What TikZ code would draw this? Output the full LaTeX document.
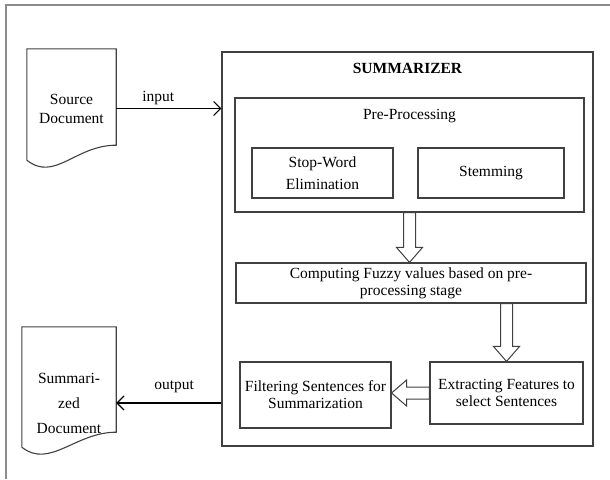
\documentclass[tikz,border=0pt]{standalone}
\usepackage{fontspec}
\setmainfont{Liberation Serif}
\usepackage{tikz}
\usetikzlibrary{arrows.meta}
\usetikzlibrary{calc}

% document symbol round a node: #1 node, #2 extra height on top
\newcommand\docshape[2]{%
	\draw[boxline] ([yshift=8pt]#1.south west) -- ([yshift=#2]#1.north west) -- ([yshift=#2]#1.north east)
		-- ([yshift=23pt]#1.south east) .. controls +(-41,0) and +(28,22) .. ([yshift=8pt]#1.south west);}

\tikzset{
	frame/.style={draw=black!45, line width=1.5pt},
	boxline/.style={draw=black!75, line width=1.1pt},
	blk/.style={boxline, align=center, inner sep=0pt},
	hollow/.style={draw=black!75, line width=1pt, fill=white, to path={
		($(\tikztostart)!6pt!90:(\tikztotarget)$) --
		($(\tikztotarget)!15pt!(\tikztostart)!6pt!90:(\tikztotarget)$) --
		($(\tikztotarget)!15pt!(\tikztostart)!13pt!90:(\tikztotarget)$) --
		(\tikztotarget) --
		($(\tikztotarget)!15pt!(\tikztostart)!13pt!-90:(\tikztotarget)$) --
		($(\tikztotarget)!15pt!(\tikztostart)!6pt!-90:(\tikztotarget)$) --
		($(\tikztostart)!6pt!-90:(\tikztotarget)$) -- cycle}}
}

\begin{document}
\begin{tikzpicture}[x=1pt, y=-1pt, every node/.style={font=\fontsize{15.5}{17}\selectfont},
	>={Straight Barb[length=7pt,width=14pt]}]
\useasboundingbox (0,0) rectangle (610,479);
\draw[frame] (610,5) -- (6,5) -- (6,479);

% input and output documents
\node[align=center, inner sep=0pt, minimum width=89pt, minimum height=119pt, font=\fontsize{15.5}{19}\selectfont] (src) at (71.5,108.5) {Source\\Document};
\docshape{src}{0pt}
\node[align=center, inner sep=0pt, minimum width=94pt, minimum height=104pt, font=\fontsize{15.5}{25}\selectfont] (sumdoc) at (69,403) {Summari-\\zed\\Document};
\docshape{sumdoc}{24pt}

% summarizer and its stages
\node[blk, minimum width=371pt, minimum height=394pt] (summ) at (407.5,249) {};
\node[font=\fontsize{15.5}{17}\selectfont\bfseries] (summtitle) at (407.5,68) {SUMMARIZER};
\node[blk, minimum width=349pt, minimum height=114pt] (pre) at (409.5,155) {};
\node (pretitle) at (409.5,116) {Pre-Processing};
\node[blk, minimum width=141pt, minimum height=50pt, font=\fontsize{15.5}{22}\selectfont] (stop) at (322.5,173) {Stop-Word\\Elimination};
\node[blk, minimum width=146pt, minimum height=50pt] (stem) at (491,173) {Stemming};
\node[blk, minimum width=350pt, minimum height=40pt] (comp) at (411,283) {Computing Fuzzy values based on pre-\\processing stage};
\node[blk, minimum width=153pt, minimum height=62pt] (extr) at (506.5,393) {Extracting Features to\\select Sentences};
\node[blk, minimum width=151pt, minimum height=66pt] (filt) at (315.5,395) {Filtering Sentences for\\Summarization};

\coordinate (a1s) at (pre.south);
\coordinate (a1e) at (pre.south |- comp.north);
\coordinate (a2s) at (extr.north |- comp.south);
\coordinate (a2e) at (extr.north);
\coordinate (a3s) at (extr.west);
\coordinate (a3e) at (extr.west -| filt.east);
\draw[hollow] (a1s) to (a1e);
\draw[hollow] (a2s) to (a2e);
\draw[hollow] (a3s) to (a3e);

\path[->, line width=1.2pt]
	(src.east) edge node[above, pos=.4]{input} (src.east -| summ.west)
	(summ.west |- sumdoc) edge node[above=6pt, pos=.45]{output} (sumdoc.east)
;
\end{tikzpicture}
\end{document}
